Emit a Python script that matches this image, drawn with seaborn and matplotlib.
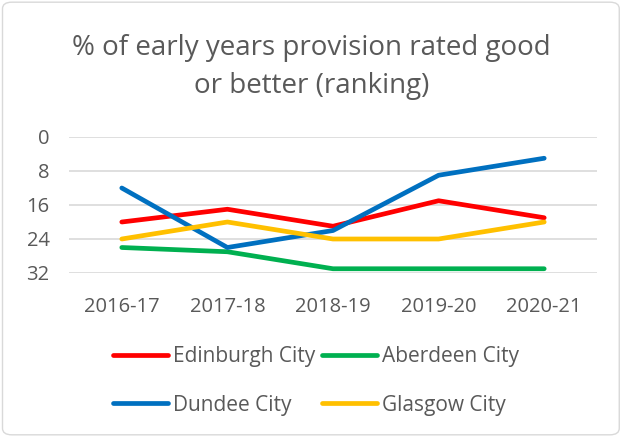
import matplotlib
matplotlib.use("Agg")
import matplotlib.pyplot as plt
from matplotlib.patches import FancyBboxPatch
from matplotlib.lines import Line2D
import seaborn as sns
import pandas as pd

years = ["2016-17", "2017-18", "2018-19", "2019-20", "2020-21"]
edinburgh = [20, 17, 21, 15, 19]
aberdeen = [26, 27, 31, 31, 31]
dundee = [12, 26, 22, 9, 5]
glasgow = [24, 20, 24, 24, 20]
series_names = ["Edinburgh City", "Aberdeen City", "Dundee City", "Glasgow City"]
colors = ["#FF0000", "#00B050", "#0070C0", "#FFC000"]
yticks = [0, 8, 16, 24, 32]

rows = []
for name, vals in zip(series_names, [edinburgh, aberdeen, dundee, glasgow]):
    for y, v in zip(years, vals):
        rows.append({"Year": y, "Rank": v, "City": name})
df = pd.DataFrame(rows)

sns.set_theme(style="white")
plt.rcParams['font.family'] = ['Open Sans', 'DejaVu Sans']

fig = plt.figure(figsize=(6.23, 4.37), dpi=100)
ax = fig.add_axes([69/623, 1-273/437, (597-69)/623, (273-137)/437])

sns.lineplot(data=df, x="Year", y="Rank", hue="City", hue_order=series_names,
             palette=colors, linewidth=3.4, sort=False, ax=ax, legend=False)
for ln in ax.lines:
    ln.set_solid_capstyle("round")
    ln.set_solid_joinstyle("round")

ax.set_ylim(32, 0)
ax.set_xlim(-0.5, 4.5)
ax.set_yticks(yticks)
ax.set_yticklabels([str(t) for t in yticks])
ax.grid(axis="y", color="#D9D9D9", linewidth=1.2)
ax.set_axisbelow(True)
for s in ax.spines.values():
    s.set_visible(False)
ax.set_xlabel("")
ax.set_ylabel("")
ax.tick_params(axis="both", length=0, labelsize=14.5, labelcolor="#595959")
ax.tick_params(axis="x", pad=17)
ax.tick_params(axis="y", pad=14)

fig.text(0.5, 1 - 67/437, "% of early years provision rated good\nor better (ranking)",
         ha="center", va="center", fontsize=20, color="#595959", linespacing=1.45)

order = [0, 2, 1, 3]
handles = [Line2D([0], [0], color=colors[i], linewidth=3.4, solid_capstyle="round") for i in order]
labels = [series_names[i] for i in order]
fig.legend(handles, labels, ncol=2, loc="center", bbox_to_anchor=(0.507, 1 - 381/437),
           frameon=False, fontsize=15, labelcolor="#595959", handlelength=2.65,
           handletextpad=0.25, columnspacing=0.3, labelspacing=1.3)

border = FancyBboxPatch((0.004, 0.005), 0.99, 0.99, boxstyle="round,pad=0,rounding_size=0.015",
                        transform=fig.transFigure, fill=False, edgecolor="#D9D9D9", linewidth=1)
fig.patches.append(border)

fig.savefig("out.png", dpi=100)
